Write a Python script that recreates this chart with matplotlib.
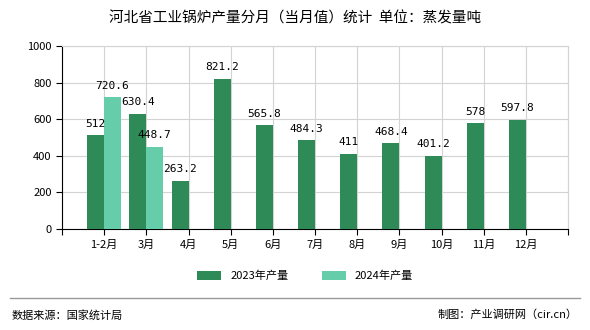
import matplotlib.pyplot as plt
import numpy as np

plt.rcParams['font.family'] = ['Noto Sans CJK SC', 'DejaVu Sans']

# data
months = ['1-2月', '3月', '4月', '5月', '6月', '7月', '8月', '9月', '10月', '11月', '12月']
prod_2023 = [512, 630.4, 263.2, 821.2, 565.8, 484.3, 411, 468.4, 401.2, 578, 597.8]
prod_2024 = [720.6, 448.7]
labels_2023 = ['512', '630.4', '263.2', '821.2', '565.8', '484.3', '411', '468.4', '401.2', '578', '597.8']
labels_2024 = ['720.6', '448.7']

c23 = '#2e8b57'
c24 = '#66cdaa'

fig = plt.figure(figsize=(5.9, 3.3), dpi=100)
ax = fig.add_axes([62 / 590, 1 - 229 / 330, 506 / 590, 183 / 330])

x = np.arange(1, len(months) + 1)
w = 0.4
ax.bar(x - w / 2, prod_2023, w, color=c23, label='2023年产量', zorder=3)
x24 = x[:len(prod_2024)]
ax.bar(x24 + w / 2, prod_2024, w, color=c24, label='2024年产量', zorder=3)

# value labels
for xi, v, t in zip(x, prod_2023, labels_2023):
    ax.text(xi - w / 2, v + 35, t, ha='center', va='bottom', fontsize=8, family='DejaVu Sans Mono', zorder=4)
for xi, v, t in zip(x24, prod_2024, labels_2024):
    ax.text(xi + w / 2, v + 35, t, ha='center', va='bottom', fontsize=8, family='DejaVu Sans Mono', zorder=4)

ax.set_xlim(0, 12)
ax.set_ylim(0, 1000)
ax.set_yticks(range(0, 1001, 200))
ax.set_xticks(range(0, 13))
ax.set_xticklabels([''] + months + [''])
ax.tick_params(axis='both', labelsize=8, length=4, color='black')
ax.grid(True, color='#d3d3d3', linewidth=0.8, zorder=0)
for s in ['top', 'right']:
    ax.spines[s].set_color('#d3d3d3')
for s in ['left', 'bottom']:
    ax.spines[s].set_color('black')

fig.text(0.5, 1 - 18 / 330, '河北省工业锅炉产量分月（当月值）统计  单位：蒸发量吨',
         ha='center', va='center', fontsize=10.5)

ax.legend(loc='center', frameon=False, ncol=2, fontsize=8, handlelength=2.2,
          handleheight=0.8, columnspacing=3)
ax.get_legend().set_bbox_to_anchor((305 / 590, 1 - 276 / 330), transform=fig.transFigure)

fig.add_artist(plt.Line2D([10 / 590, 580 / 590], [1 - 298 / 330] * 2, color='#999999', linewidth=1))
fig.text(12 / 590, 1 - 315 / 330, '数据来源：国家统计局', ha='left', va='center', fontsize=8)
fig.text(578 / 590, 1 - 315 / 330, '制图：产业调研网（cir.cn）', ha='right', va='center', fontsize=8)

fig.savefig('out.png', dpi=100)
